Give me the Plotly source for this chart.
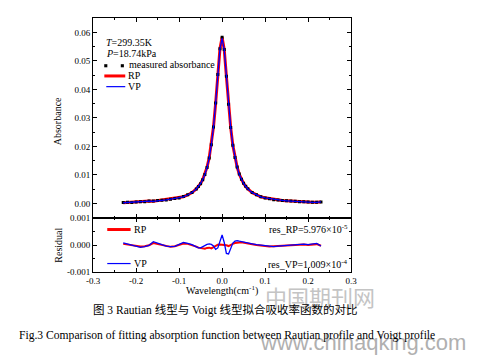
import plotly.graph_objects as go

# ---------------- data ----------------
wavelength = [-0.23, -0.22, -0.21, -0.20, -0.19, -0.18, -0.17, -0.16, -0.15, -0.14,
              -0.13, -0.12, -0.11, -0.10, -0.09, -0.08, -0.07,
              -0.060, -0.055, -0.050, -0.045, -0.040, -0.035, -0.030, -0.025, -0.020,
              -0.015, -0.010, -0.005, 0.000, 0.005, 0.010, 0.015, 0.020, 0.025,
              0.030, 0.035, 0.040, 0.045, 0.050, 0.055, 0.060,
              0.07, 0.08, 0.09, 0.10, 0.11, 0.12, 0.13, 0.14, 0.15, 0.16,
              0.17, 0.18, 0.19, 0.20, 0.21, 0.22, 0.23]

measured = [0.0003, 0.0004, 0.0003, 0.0005, 0.0006, 0.0006, 0.0008, 0.0008, 0.0010, 0.0011,
            0.0012, 0.0014, 0.0017, 0.0019, 0.0024, 0.0030, 0.0038,
            0.0050, 0.0059, 0.0069, 0.0083, 0.0101, 0.0126, 0.0159, 0.0206, 0.0268,
            0.0352, 0.0452, 0.0543, 0.0583, 0.0540, 0.0446, 0.0348, 0.0266, 0.0204,
            0.0161, 0.0128, 0.0103, 0.0085, 0.0071, 0.0060, 0.0051,
            0.0038, 0.0030, 0.0023, 0.0019, 0.0016, 0.0013, 0.0012, 0.0010, 0.0009, 0.0008,
            0.0007, 0.0006, 0.0006, 0.0005, 0.0004, 0.0004, 0.0005]

res_rp = [0.5e-4, 0.2e-4, 0.0, -0.3e-4, -0.5e-4, -0.4e-4, 0.0, 0.8e-4, 0.5e-4, 0.1e-4,
          -0.3e-4, -0.6e-4, -0.4e-4, 0.0, 0.6e-4, 0.5e-4, 0.1e-4,
          -0.5e-4, -0.9e-4, -1.1e-4, -1.1e-4, -1.3e-4, -1.0e-4, -0.9e-4, -1.2e-4, -0.7e-4,
          -0.2e-4, 0.2e-4, 0.3e-4, 0.2e-4, 0.3e-4, 0.0, -0.3e-4, 0.2e-4, 0.5e-4,
          0.8e-4, 1.0e-4, 1.0e-4, 1.1e-4, 1.0e-4, 0.8e-4, 0.6e-4,
          0.4e-4, 0.1e-4, -0.1e-4, -0.3e-4, -0.5e-4, -0.4e-4, -0.3e-4, -0.2e-4, -0.1e-4, 0.1e-4,
          0.0, 0.2e-4, 0.3e-4, 0.1e-4, 0.3e-4, 0.4e-4, -0.2e-4]

res_vp = [0.9e-4, 0.5e-4, 0.2e-4, -0.3e-4, -0.8e-4, -0.5e-4, -0.1e-4, 1.3e-4, 0.6e-4, 0.2e-4,
          -0.3e-4, -0.5e-4, -0.4e-4, 0.2e-4, 1.0e-4, 0.7e-4, 0.2e-4,
          -0.6e-4, -1.0e-4, -1.0e-4, -0.5e-4, -0.2e-4, 0.3e-4, 0.5e-4, 0.3e-4, -0.3e-4,
          -1.5e-4, -1.0e-4, 1.5e-4, 3.8e-4, 1.0e-4, -3.0e-4, -3.2e-4, -0.8e-4, 0.8e-4,
          1.5e-4, 1.7e-4, 1.5e-4, 1.3e-4, 1.1e-4, 0.9e-4, 0.7e-4,
          0.5e-4, 0.2e-4, 0.0, -0.3e-4, -0.4e-4, -0.5e-4, -0.3e-4, -0.2e-4, 0.0, 0.2e-4,
          0.1e-4, 0.3e-4, 0.4e-4, 0.2e-4, 0.5e-4, 0.7e-4, -0.3e-4]

x_tickvals = [-0.3, -0.2, -0.1, 0.0, 0.1, 0.2, 0.3]
x_ticktext = ["-0.3", "-0.2", "-0.1", "0.0", "0.1", "0.2", "0.3"]
abs_tickvals = [0.00, 0.01, 0.02, 0.03, 0.04, 0.05, 0.06]
abs_ticktext = ["0.00", "0.01", "0.02", "0.03", "0.04", "0.05", "0.06"]
res_tickvals = [-0.001, 0.0, 0.001]
res_ticktext = ["-0.001", "0.000", "0.001"]

# fitted curves = measured - residual
rp_fit = [m - r for m, r in zip(measured, res_rp)]
vp_fit = [m - r for m, r in zip(measured, res_vp)]

RED = "#ff0000"
BLUE = "#0000ff"
SERIF = "Liberation Serif, Times New Roman, serif"

fig = go.Figure()
fig.add_trace(go.Scatter(x=wavelength, y=rp_fit, mode="lines", line=dict(color=RED, width=3),
                         xaxis="x", yaxis="y", showlegend=False))
fig.add_trace(go.Scatter(x=wavelength, y=measured, mode="markers",
                         marker=dict(symbol="square", size=3, color="black"),
                         xaxis="x", yaxis="y", showlegend=False))
fig.add_trace(go.Scatter(x=wavelength, y=vp_fit, mode="lines", line=dict(color=BLUE, width=1.3),
                         xaxis="x", yaxis="y", showlegend=False))
fig.add_trace(go.Scatter(x=wavelength, y=res_rp, mode="lines", line=dict(color=RED, width=2),
                         xaxis="x2", yaxis="y2", showlegend=False))
fig.add_trace(go.Scatter(x=wavelength, y=res_vp, mode="lines", line=dict(color=BLUE, width=1.3),
                         xaxis="x2", yaxis="y2", showlegend=False))

XD = [0.1817, 0.7259]
axis_common = dict(showline=True, linecolor="black", linewidth=1, mirror="ticks",
                   ticks="inside", ticklen=4, tickcolor="black", showgrid=False, zeroline=False,
                   tickfont=dict(family=SERIF, size=9, color="black"))

fig.update_layout(
    width=487, height=357, margin=dict(l=0, r=0, t=0, b=0),
    paper_bgcolor="white", plot_bgcolor="white",
    xaxis=dict(domain=XD, anchor="y", range=[-0.3, 0.3], tickvals=x_tickvals,
               showticklabels=False, minor=dict(dtick=0.05, ticks="inside", ticklen=2, tickcolor="black"),
               **axis_common),
    yaxis=dict(domain=[0.3857, 0.9627], anchor="x", range=[-0.0052, 0.0651],
               tickvals=abs_tickvals, ticktext=abs_ticktext,
               minor=dict(dtick=0.005, ticks="inside", ticklen=2, tickcolor="black"),
               **axis_common),
    xaxis2=dict(domain=XD, anchor="y2", range=[-0.3, 0.3], tickvals=x_tickvals, ticktext=x_ticktext,
                minor=dict(dtick=0.05, ticks="inside", ticklen=2, tickcolor="black"),
                **axis_common),
    yaxis2=dict(domain=[0.2297, 0.3857], anchor="x2", range=[-0.001, 0.001],
                tickvals=res_tickvals, ticktext=res_ticktext,
                minor=dict(dtick=0.0005, ticks="inside", ticklen=2, tickcolor="black"),
                **axis_common),
)

def px(x):
    return x / 487.0

def py(y):
    return 1 - y / 357.0

ann = []
def text(x, y, s, size=10, xanchor="left", color="black", family=SERIF, angle=0):
    ann.append(dict(x=px(x), y=py(y), xref="paper", yref="paper", text=s, showarrow=False,
                    xanchor=xanchor, yanchor="middle", textangle=angle,
                    font=dict(family=family, size=size, color=color)))

# top legend
text(100, 39, "<i>T</i>=299.35K")
text(100, 50, "<i>P</i>=18.74kPa")
text(123, 61.5, "measured absorbance")
text(122, 73, "RP")
text(122, 84, "VP")
# residual legend
text(128, 231, "RP")
text(128, 266, "VP")
text(352, 230, "res_RP=5.976×10<sup>-5</sup>", xanchor="right")
text(352, 266, "res_VP=1.009×10<sup>-4</sup>", xanchor="right")
# axis titles
text(52, 120, "Absorbance", xanchor="center", angle=-90)
text(52, 247, "Residual", xanchor="center", angle=-90)
text(221, 294, "Wavelength(cm<sup>-1</sup>)", xanchor="center")
# watermark
text(322, 299, "中国期刊网", size=22, xanchor="center", color="#c4c4c4",
     family="Noto Sans CJK SC")
text(366, 347, "www.chinaqking.com", size=22, xanchor="center", color="#b0b0b0",
     family="Liberation Sans, Arial, sans-serif")
# captions
text(225, 314, "图 3 Rautian 线型与 Voigt 线型拟合吸收率函数的对比", size=11.5, xanchor="center",
     family="Liberation Serif, Noto Sans CJK SC")
text(226, 340, "Fig.3 Comparison of fitting absorption function between Rautian profile and Voigt profile",
     size=11.6, xanchor="center")

fig.update_layout(annotations=ann)

# legend sample marks
shapes = []
shapes.append(dict(type="line", xref="paper", yref="paper", x0=px(100), x1=px(121.5),
                   y0=py(73), y1=py(73), line=dict(color=RED, width=3)))
shapes.append(dict(type="line", xref="paper", yref="paper", x0=px(102), x1=px(121.5),
                   y0=py(84), y1=py(84), line=dict(color=BLUE, width=1.2)))
for cx in (101.5, 118.5):
    shapes.append(dict(type="rect", xref="paper", yref="paper", x0=px(cx - 1.6), x1=px(cx + 1.6),
                       y0=py(62.5 + 1.6), y1=py(62.5 - 1.6), fillcolor="black", line=dict(width=0)))
shapes.append(dict(type="line", xref="paper", yref="paper", x0=px(103), x1=px(127),
                   y0=py(231), y1=py(231), line=dict(color=RED, width=3)))
shapes.append(dict(type="line", xref="paper", yref="paper", x0=px(103), x1=px(127),
                   y0=py(266), y1=py(266), line=dict(color=BLUE, width=1.2)))
fig.update_layout(shapes=shapes)

fig.write_html("out.html", config={"displayModeBar": False},
               post_script="document.body.style.margin='0';document.body.style.overflow='hidden';")
